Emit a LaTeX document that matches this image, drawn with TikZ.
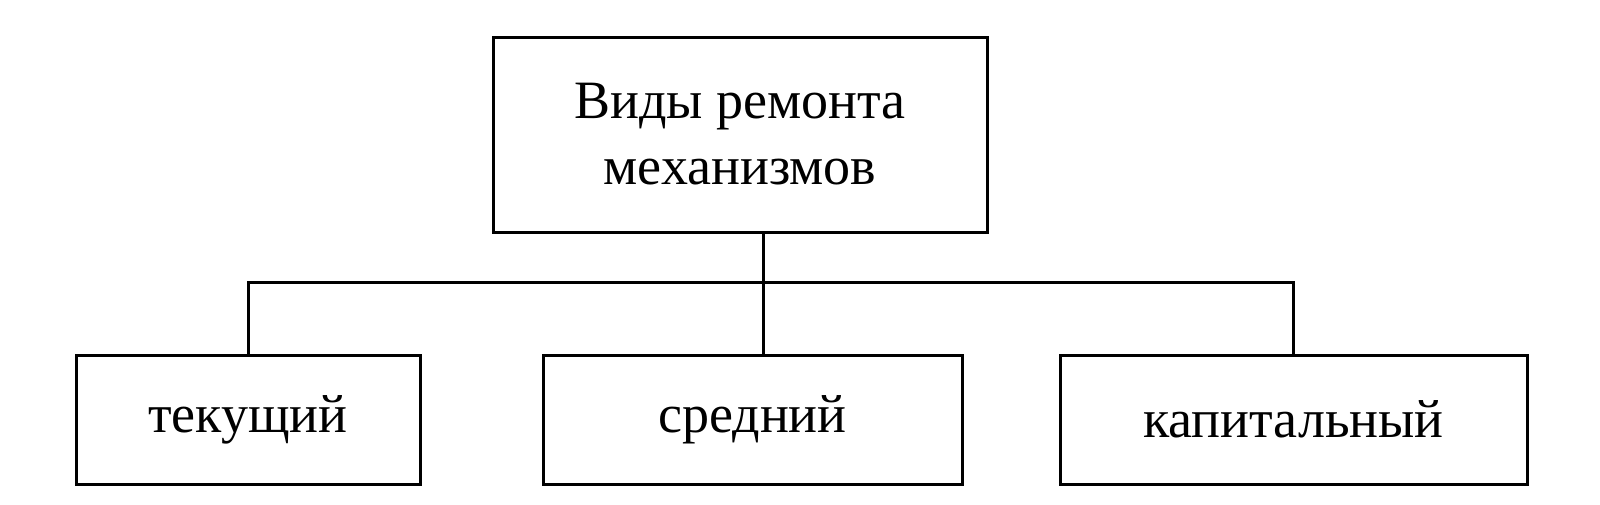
\documentclass[tikz,border=0pt]{standalone}
\usepackage{fontspec}
\setmainfont{Liberation Serif}
\begin{document}
\begin{tikzpicture}[x=0.5pt,y=-0.5pt,
  box/.style={draw,line width=1.5pt,inner sep=0pt,align=center,font=\fontsize{27}{33}\selectfont},
  link/.style={line width=1.5pt}]
\node[box,minimum width=247pt,minimum height=97.5pt] (top) at (740,134.5) {Виды ремонта\\механизмов};
\node[box,minimum width=172pt,minimum height=64.5pt] (a) at (248,419.5) {\raisebox{-3pt}{текущий}};
\node[box,minimum width=209.5pt,minimum height=64.5pt] (b) at (752.5,419.5) {\raisebox{-3pt}{средний}};
\node[box,minimum width=233.5pt,minimum height=64.5pt] (c) at (1293.5,419.5) {\raisebox{-3pt}{капитальный}};
\coordinate (j) at (763,282);
\draw[link] (top.south -| j) -- (j |- b.north);
\draw[link] (a.north) -- (a.north |- j) -- (c.north |- j) -- (c.north);
\pgfresetboundingbox
\useasboundingbox (0,0) rectangle (1600,504);
\end{tikzpicture}
\end{document}
